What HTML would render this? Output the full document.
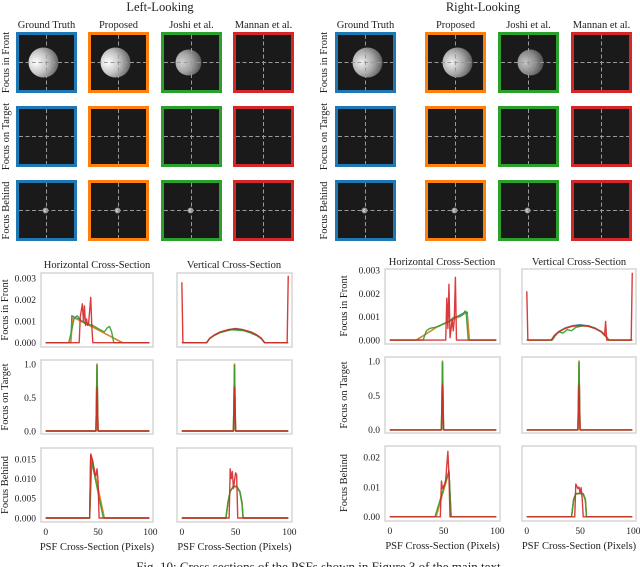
<!DOCTYPE html>
<html><head><meta charset="utf-8">
<style>
html,body{margin:0;padding:0;background:#fff;}
svg{display:block;font-family:"Liberation Serif",serif;}
</style></head>
<body>
<svg id="fig" width="640" height="567" viewBox="0 0 640 567" xmlns="http://www.w3.org/2000/svg">
<defs>
<radialGradient id="diskL" cx="0.25" cy="0.5" r="0.85"><stop offset="0" stop-color="#ffffff"/><stop offset="0.45" stop-color="#c4c4c4"/><stop offset="1" stop-color="#4a4a4a"/></radialGradient>
<radialGradient id="diskR" cx="0.3" cy="0.5" r="0.8"><stop offset="0" stop-color="#f0f0f0"/><stop offset="0.5" stop-color="#a8a8a8"/><stop offset="1" stop-color="#444"/></radialGradient>
<radialGradient id="dot" cx="0.5" cy="0.5" r="0.5"><stop offset="0" stop-color="#fff"/><stop offset="1" stop-color="#777"/></radialGradient>
</defs>
</svg>
<script>
// ---------- chart data ----------
const xTicks = [0, 50, 100];
const yTicksFront = [0, 0.001, 0.002, 0.003];
const yLabelsFront = ["0.000", "0.001", "0.002", "0.003"];
const yTicksTarget = [0, 0.5, 1.0];
const yLabelsTarget = ["0.0", "0.5", "1.0"];
const yTicksBehindL = [0, 0.005, 0.010, 0.015];
const yLabelsBehindL = ["0.000", "0.005", "0.010", "0.015"];
const yTicksBehindR = [0, 0.01, 0.02];
const yLabelsBehindR = ["0.00", "0.01", "0.02"];

// Left-looking, focus in front, horizontal
const LFH_blue = [[0,0],[24,0],[25,0.00125],[73,0],[99,0]];
const LFH_orange = [[0,0],[24,0],[26,0.00118],[74,0],[99,0]];
const LFH_green = [[0,0],[22,0],[24,0.0004],[27,0.0011],[30,0.00125],[34,0.001],[38,0.0009],[45,0.0008],[52,0.0006],[56,0.0005],[59,0.0007],[61,0.00075],[63,0.0005],[65,0],[99,0]];
const LFH_red = [[0,0],[32,0],[33,0.0012],[35,0.0018],[36,0.001],[37,0.0017],[38,0.0008],[39,0.0011],[40,0.0008],[41,0.0009],[43,0.0021],[44,0.0008],[45,0],[99,0]];
// Left-looking, focus in front, vertical
const LFV_blue = [[0,0],[23,0],[26,0.0002],[30,0.00035],[36,0.0005],[43,0.0006],[50,0.00066],[57,0.0006],[64,0.0005],[70,0.00035],[74,0.0002],[77,0],[99,0]];
const LFV_orange = [[0,0],[23,0],[26,0.0002],[30,0.00034],[36,0.00049],[43,0.00059],[50,0.00063],[57,0.00059],[64,0.00049],[70,0.00034],[74,0.0002],[77,0],[99,0]];
const LFV_green = [[0,0],[23,0],[26,0.0002],[30,0.00033],[36,0.00047],[42,0.00055],[47,0.0006],[52,0.00058],[58,0.00055],[64,0.00045],[70,0.00032],[74,0.00018],[77,0],[99,0]];
const LFV_red = [[0,0.0028],[1,0],[23,0],[26,0.0002],[30,0.00035],[36,0.0005],[43,0.0006],[50,0.00064],[57,0.0006],[64,0.0005],[70,0.00035],[74,0.0002],[77,0],[98,0],[99,0.0031]];
// Focus on target (same for all 4 panels)
const TGT_blue = [[0,0],[48,0],[49,1.0],[50,0],[99,0]];
const TGT_orange = [[0,0],[48,0],[49,1.0],[50,0],[99,0]];
const TGT_green = [[0,0],[48,0],[49,0.98],[50,0],[99,0]];
const TGT_red = [[0,0],[48,0],[49,0.65],[50,0],[99,0]];
// Left-looking, focus behind, horizontal
const LBH_blue = [[0,0],[42,0],[43,0.016],[45,0.014],[56,0],[99,0]];
const LBH_orange = [[0,0],[42,0],[43,0.0158],[45,0.0138],[56,0],[99,0]];
const LBH_green = [[0,0],[42,0],[44,0.0143],[55,0],[99,0]];
const LBH_red = [[0,0],[42,0],[43,0.0163],[45,0.0145],[47,0.011],[48,0.0108],[49,0.0125],[50,0.0095],[51,0],[99,0]];
// Left-looking, focus behind, vertical
const LBV_blue = [[0,0],[41,0],[43,0.004],[45,0.0068],[48,0.0081],[51,0.0081],[54,0.0068],[56,0.004],[57,0],[99,0]];
const LBV_orange = [[0,0],[41,0],[43,0.004],[45,0.0067],[48,0.008],[51,0.008],[54,0.0067],[56,0.004],[57,0],[99,0]];
const LBV_green = [[0,0],[41,0],[43,0.0042],[45,0.0068],[48,0.008],[51,0.0079],[54,0.0066],[56,0.0035],[57,0],[99,0]];
const LBV_red = [[0,0],[44,0],[45,0.0125],[46,0.010],[47,0.0118],[48,0.0075],[50,0.0115],[51,0.011],[52,0],[99,0]];
// Right-looking, focus in front, horizontal
const RFH_blue = [[0,0],[25,0],[35,0.0003],[45,0.0006],[55,0.0008],[62,0.001],[70,0.0012],[72,0.0012],[74,0],[99,0]];
const RFH_orange = [[0,0],[24,0],[35,0.0003],[45,0.0006],[55,0.00078],[62,0.00095],[70,0.00115],[72,0.0011],[74,0],[99,0]];
const RFH_green = [[0,0],[31,0],[34,0.0004],[37,0.0005],[42,0.00055],[46,0.0006],[50,0.0007],[55,0.0008],[60,0.001],[65,0.001],[68,0.0011],[70,0.00125],[71,0.0012],[73,0],[99,0]];
const RFH_red = [[0,0],[52,0],[53,0.0018],[54,0.0005],[55,0.0024],[56,0.0001],[57,0.0005],[58,0.0009],[59,0.0004],[60,0.0009],[61,0.0027],[62,0],[99,0]];
// Right-looking, focus in front, vertical
const RFV_blue = [[0,0],[23,0],[26,0.0002],[30,0.00037],[36,0.00052],[43,0.00062],[50,0.00066],[57,0.00062],[64,0.00052],[70,0.00037],[74,0.0002],[77,0],[99,0]];
const RFV_orange = [[0,0],[23,0],[26,0.0002],[30,0.00035],[36,0.0005],[43,0.0006],[50,0.00063],[57,0.0006],[64,0.0005],[70,0.00035],[74,0.0002],[77,0],[99,0]];
const RFV_green = [[0,0],[24,0],[27,0.0002],[30,0.00035],[34,0.0003],[38,0.00045],[42,0.0004],[46,0.00055],[52,0.0006],[58,0.00062],[64,0.0005],[70,0.00035],[74,0.00015],[77,0],[99,0]];
const RFV_red = [[0,0.0021],[1,0],[23,0],[26,0.0002],[30,0.00035],[36,0.0005],[43,0.0006],[50,0.00063],[57,0.0006],[64,0.0005],[70,0.00035],[73,0.0002],[74,0.0008],[75,0],[98,0],[99,0.0029]];
// Right-looking, focus behind, horizontal
const RBH_blue = [[0,0],[43,0],[55,0.0153],[57,0],[99,0]];
const RBH_orange = [[0,0],[43,0],[55,0.015],[57,0],[99,0]];
const RBH_green = [[0,0],[42,0],[55,0.0155],[57,0],[99,0]];
const RBH_red = [[0,0],[47,0],[48,0.012],[49,0.0095],[51,0.011],[52,0.0125],[54,0.022],[55,0.014],[56,0],[99,0]];
// Right-looking, focus behind, vertical
const RBV_blue = [[0,0],[42,0],[44,0.006],[46,0.0078],[50,0.008],[53,0.0078],[55,0.006],[56,0],[99,0]];
const RBV_orange = [[0,0],[42,0],[44,0.0058],[46,0.0076],[50,0.0078],[53,0.0076],[55,0.0058],[56,0],[99,0]];
const RBV_green = [[0,0],[42,0],[44,0.006],[46,0.0077],[50,0.0079],[53,0.0075],[55,0.0055],[56,0],[99,0]];
const RBV_red = [[0,0],[45,0],[46,0.011],[48,0.0095],[49,0.010],[50,0.008],[51,0.0098],[52,0.006],[53,0],[99,0]];

const SERIES_COLORS = ["#1f77b4", "#ff7f0e", "#2ca02c", "#d62728"];
const SERIES_NAMES = ["ground-truth", "proposed", "joshi", "mannan"];

const NS = "http://www.w3.org/2000/svg";
const svg = document.getElementById("fig");
function mk(tag, attrs, parent) {
  const e = document.createElementNS(NS, tag);
  for (const k in attrs) e.setAttribute(k, attrs[k]);
  (parent || svg).appendChild(e);
  return e;
}
function txt(s, x, y, size, anchor, parent, rot) {
  const t = mk("text", {x: x, y: y, "font-size": size, "text-anchor": anchor || "middle", fill: "#222"}, parent);
  if (rot) t.setAttribute("transform", "rotate(-90 " + x + " " + y + ")");
  t.textContent = s;
  return t;
}

// ---------- image grids ----------
const gridCols = [
  {side: "left", xs: [16, 88, 161, 233], title: "Left-Looking", tx: 160, rowLabelX: 9, disk: "url(#diskL)", dOff: -3},
  {side: "right", xs: [335, 425, 498, 571], title: "Right-Looking", tx: 483, rowLabelX: 327, disk: "url(#diskR)", dOff: 2}
];
const colNames = ["Ground Truth", "Proposed", "Joshi et al.", "Mannan et al."];
const rowNames = ["Focus in Front", "Focus on Target", "Focus Behind"];
const rowYs = [32, 106, 180];
const BOX = 61;
gridCols.forEach(g => {
  const grp = mk("g", {});
  
  
  const tt = txt(g.title, g.tx, 11, 12.5, "middle", grp);
  
  
  g.xs.forEach((x, ci) => {
    const cl = txt(colNames[ci], x + BOX / 2, 28, 10.5, "middle", grp);
    
    
  });
  rowYs.forEach((y, ri) => {
    const rl = txt(rowNames[ri], g.rowLabelX, y + BOX / 2, 10.5, "middle", grp, true);
    
    
    g.xs.forEach((x, ci) => {
      const cell = mk("g", {}, grp);
      
      
      mk("rect", {x: x + 1.5, y: y + 1.5, width: BOX - 3, height: BOX - 3, fill: "#1a1a1a", stroke: SERIES_COLORS[ci], "stroke-width": 3}, cell);
      const cx = x + BOX / 2, cy = y + BOX / 2;
      if (ri === 0 && ci < 3) {
        const r = ci === 2 ? 13 : 15;
        mk("circle", {cx: cx + g.dOff, cy: cy, r: r, fill: g.disk, opacity: ci === 2 ? 0.8 : 1}, cell);
      }
      if (ri === 2 && ci < 3) {
        mk("circle", {cx: cx - 1, cy: cy, r: 3, fill: "url(#dot)"}, cell);
      }
      mk("line", {x1: x + 3, x2: x + BOX - 3, y1: cy, y2: cy, stroke: "#9a9a9a", "stroke-width": 1, "stroke-dasharray": "4,2.5"}, cell);
      mk("line", {x1: cx, x2: cx, y1: y + 3, y2: y + BOX - 3, stroke: "#9a9a9a", "stroke-width": 1, "stroke-dasharray": "4,2.5"}, cell);
    });
  });
});

// ---------- line plots ----------
const panels = [
  {name: "left-front-horizontal", L: 41, T: 273, W: 112, H: 74, ylim: [-0.0002, 0.00323], yt: yTicksFront, yl: yLabelsFront, s: [LFH_blue, LFH_orange, LFH_green, LFH_red], showY: true, xt: false},
  {name: "left-front-vertical", L: 177, T: 273, W: 115, H: 74, ylim: [-0.0002, 0.00323], yt: yTicksFront, yl: null, s: [LFV_blue, LFV_orange, LFV_green, LFV_red], showY: false, xt: false},
  {name: "left-target-horizontal", L: 41, T: 360, W: 112, H: 74, ylim: [-0.045, 1.06], yt: yTicksTarget, yl: yLabelsTarget, s: [TGT_blue, TGT_orange, TGT_green, TGT_red], showY: true, xt: false},
  {name: "left-target-vertical", L: 177, T: 360, W: 115, H: 74, ylim: [-0.045, 1.06], yt: yTicksTarget, yl: null, s: [TGT_blue, TGT_orange, TGT_green, TGT_red], showY: false, xt: false},
  {name: "left-behind-horizontal", L: 41, T: 448, W: 112, H: 74, ylim: [-0.00102, 0.01781], yt: yTicksBehindL, yl: yLabelsBehindL, s: [LBH_blue, LBH_orange, LBH_green, LBH_red], showY: true, xt: true},
  {name: "left-behind-vertical", L: 177, T: 448, W: 115, H: 74, ylim: [-0.00102, 0.01781], yt: yTicksBehindL, yl: null, s: [LBV_blue, LBV_orange, LBV_green, LBV_red], showY: false, xt: true},
  {name: "right-front-horizontal", L: 385, T: 269, W: 115, H: 75, ylim: [-0.00017, 0.00306], yt: yTicksFront, yl: yLabelsFront, s: [RFH_blue, RFH_orange, RFH_green, RFH_red], showY: true, xt: false},
  {name: "right-front-vertical", L: 522, T: 269, W: 114, H: 75, ylim: [-0.00017, 0.00306], yt: yTicksFront, yl: null, s: [RFV_blue, RFV_orange, RFV_green, RFV_red], showY: false, xt: false},
  {name: "right-target-horizontal", L: 385, T: 357, W: 115, H: 76, ylim: [-0.045, 1.06], yt: yTicksTarget, yl: yLabelsTarget, s: [TGT_blue, TGT_orange, TGT_green, TGT_red], showY: true, xt: false},
  {name: "right-target-vertical", L: 522, T: 357, W: 114, H: 76, ylim: [-0.045, 1.06], yt: yTicksTarget, yl: null, s: [TGT_blue, TGT_orange, TGT_green, TGT_red], showY: false, xt: false},
  {name: "right-behind-horizontal", L: 385, T: 446, W: 115, H: 75, ylim: [-0.0014, 0.0238], yt: yTicksBehindR, yl: yLabelsBehindR, s: [RBH_blue, RBH_orange, RBH_green, RBH_red], showY: true, xt: true},
  {name: "right-behind-vertical", L: 522, T: 446, W: 114, H: 75, ylim: [-0.0014, 0.0238], yt: yTicksBehindR, yl: null, s: [RBV_blue, RBV_orange, RBV_green, RBV_red], showY: false, xt: true}
];
const XLIM = [-4.5, 102.5];

panels.forEach(p => {
  const g = mk("g", {});
  
  
  const xs = v => p.L + (v - XLIM[0]) / (XLIM[1] - XLIM[0]) * p.W;
  const ys = v => p.T + p.H - (v - p.ylim[0]) / (p.ylim[1] - p.ylim[0]) * p.H;
  const cp = "cp-" + p.name;
  const clip = mk("clipPath", {id: cp}, g);
  mk("rect", {x: p.L, y: p.T, width: p.W, height: p.H}, clip);
  p.s.forEach((ser, i) => {
    const d = ser.map((pt, k) => (k ? "L" : "M") + xs(pt[0]).toFixed(2) + " " + ys(pt[1]).toFixed(2)).join(" ");
    const path = mk("path", {d: d, fill: "none", stroke: SERIES_COLORS[i], "stroke-width": 1.4, "stroke-opacity": 0.9, "stroke-linejoin": "round", "clip-path": "url(#" + cp + ")"}, g);
    
    
  });
  const frame = mk("rect", {x: p.L, y: p.T, width: p.W, height: p.H, fill: "none", stroke: "#cfcfcf", "stroke-width": 1.3}, g);
  
  
  if (p.showY) {
    p.yt.forEach((v, k) => {
      const t = txt(p.yl[k], p.L - 5, ys(v) + 3.3, 9.5, "end", g);
      
      
    });
  }
  if (p.xt) {
    xTicks.forEach(v => {
      const t = txt(String(v), xs(v), p.T + p.H + 13, 9.5, "middle", g);
      
      
    });
    const xl = txt("PSF Cross-Section (Pixels)", p.L + p.W / 2, p.T + p.H + 28, 10.5, "middle", g);
    
    
  }
});

// subplot titles and row labels
const subTitles = [
  ["Horizontal Cross-Section", 97, 268], ["Vertical Cross-Section", 234, 268],
  ["Horizontal Cross-Section", 442, 265], ["Vertical Cross-Section", 579, 265]
];
subTitles.forEach(s => {
  const t = txt(s[0], s[1], s[2], 10.5, "middle");
  
  
});
const plotRowLabels = [
  ["Focus in Front", 8, 310], ["Focus on Target", 8, 397], ["Focus Behind", 8, 485],
  ["Focus in Front", 347, 306], ["Focus on Target", 347, 395], ["Focus Behind", 347, 483]
];
plotRowLabels.forEach(s => {
  const t = txt(s[0], s[1], s[2], 10.5, "middle", null, true);
  
  
});

const cap = txt("Fig. 10: Cross sections of the PSFs shown in Figure 3 of the main text.", 320, 571, 13, "middle");


</script>
</body></html>
